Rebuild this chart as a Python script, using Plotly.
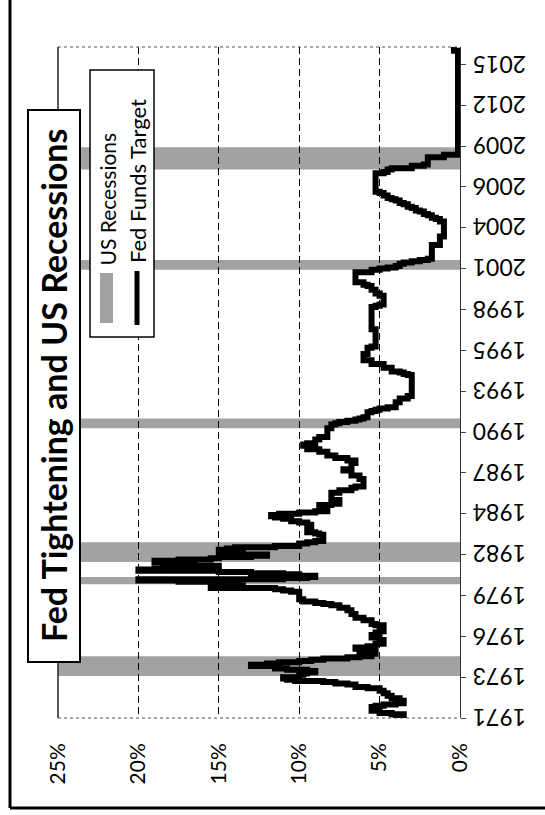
import plotly.graph_objects as go

# Fed funds target rate, change points (month, percent)
target_dates = [
    "1971-01", "1971-02", "1971-04", "1971-05", "1971-07", "1971-10", "1971-11", "1971-12",
    "1972-01", "1972-03", "1972-05", "1972-07", "1972-09", "1972-11",
    "1973-01", "1973-02", "1973-04", "1973-05", "1973-06", "1973-07", "1973-08", "1973-09",
    "1973-10", "1973-12",
    "1974-01", "1974-02", "1974-03", "1974-04", "1974-05", "1974-07", "1974-08", "1974-09",
    "1974-10", "1974-11", "1974-12",
    "1975-01", "1975-02", "1975-03", "1975-05", "1975-07", "1975-09", "1975-10", "1975-11",
    "1976-01", "1976-04", "1976-06", "1976-08", "1976-10", "1976-11",
    "1977-04", "1977-05", "1977-08", "1977-10",
    "1978-01", "1978-04", "1978-06", "1978-08", "1978-09", "1978-10", "1978-11",
    "1979-01", "1979-07", "1979-08", "1979-09", "1979-10", "1979-11", "1979-12",
    "1980-01", "1980-02", "1980-03", "1980-04", "1980-05", "1980-06", "1980-07", "1980-08",
    "1980-09", "1980-10", "1980-11", "1980-12",
    "1981-01", "1981-02", "1981-03", "1981-04", "1981-05", "1981-07", "1981-08", "1981-09",
    "1981-10", "1981-11", "1981-12",
    "1982-01", "1982-02", "1982-04", "1982-05", "1982-06", "1982-07", "1982-08", "1982-10",
    "1982-11", "1982-12",
    "1983-05", "1983-06", "1983-07", "1983-10",
    "1984-01", "1984-03", "1984-04", "1984-06", "1984-07", "1984-08", "1984-09", "1984-10",
    "1984-11", "1984-12",
    "1985-01", "1985-03", "1985-05", "1985-06", "1985-09",
    "1986-03", "1986-05", "1986-07", "1986-08",
    "1987-02", "1987-05", "1987-09", "1987-10",
    "1988-03", "1988-05", "1988-07", "1988-09", "1988-12",
    "1989-02", "1989-05", "1989-06", "1989-07", "1989-10", "1989-12",
    "1990-07", "1990-10", "1990-11", "1990-12",
    "1991-01", "1991-02", "1991-03", "1991-04", "1991-08", "1991-09", "1991-10", "1991-11",
    "1991-12",
    "1992-04", "1992-07", "1992-09",
    "1994-02", "1994-03", "1994-04", "1994-05", "1994-08", "1994-11",
    "1995-02", "1995-07", "1995-12", "1996-01", "1997-03",
    "1998-09", "1998-10", "1998-11",
    "1999-06", "1999-08", "1999-11",
    "2000-02", "2000-03", "2000-05",
    "2001-01", "2001-03", "2001-04", "2001-05", "2001-06", "2001-08", "2001-09", "2001-10",
    "2001-11", "2001-12",
    "2002-11", "2003-06",
    "2004-06", "2004-08", "2004-09", "2004-11", "2004-12",
    "2005-02", "2005-03", "2005-05", "2005-06", "2005-08", "2005-09", "2005-11", "2005-12",
    "2006-01", "2006-03", "2006-05", "2006-06",
    "2007-09", "2007-10", "2007-12",
    "2008-01", "2008-03", "2008-04", "2008-10", "2008-12",
    "2015-12", "2016-03",
]
target_rates = [
    4.0, 3.5, 4.25, 5.0, 5.5, 5.25, 4.75, 4.0,
    3.5, 3.75, 4.25, 4.5, 4.75, 5.0,
    5.75, 6.5, 7.0, 7.75, 8.5, 10.25, 10.75, 11.0,
    10.0, 9.75,
    9.5, 9.0, 9.5, 10.75, 11.5, 13.0, 12.0, 11.25,
    10.0, 9.25, 8.5,
    7.0, 6.25, 5.5, 5.25, 6.25, 6.5, 5.75, 5.25,
    4.75, 5.0, 5.5, 5.25, 5.0, 4.75,
    5.25, 5.5, 6.0, 6.5,
    6.75, 7.0, 7.5, 8.0, 8.5, 9.0, 9.75,
    10.0, 10.5, 11.0, 11.5, 15.5, 13.5, 13.75,
    14.0, 15.0, 17.5, 20.0, 11.0, 9.5, 9.0, 10.0,
    11.0, 13.0, 15.0, 20.0,
    19.0, 16.0, 15.0, 16.5, 18.5, 19.0, 17.5, 15.5,
    15.0, 13.0, 12.0,
    13.5, 14.75, 15.0, 14.5, 14.0, 11.5, 10.0, 9.5,
    9.0, 8.5,
    8.75, 9.0, 9.5, 9.25,
    9.5, 10.0, 10.5, 11.0, 11.5, 11.75, 11.25, 10.0,
    9.0, 8.25,
    8.5, 8.75, 8.0, 7.5, 8.0,
    7.5, 6.75, 6.5, 6.0,
    6.25, 6.75, 7.25, 6.75,
    6.5, 7.0, 7.75, 8.25, 8.75,
    9.5, 9.75, 9.5, 9.0, 8.75, 8.25,
    8.0, 7.75, 7.5, 7.0,
    6.5, 6.25, 6.0, 5.75, 5.5, 5.25, 5.0, 4.5,
    4.0,
    3.75, 3.25, 3.0,
    3.25, 3.5, 3.75, 4.25, 4.75, 5.5,
    6.0, 5.75, 5.5, 5.25, 5.5,
    5.25, 5.0, 4.75,
    5.0, 5.25, 5.5,
    5.75, 6.0, 6.5,
    5.5, 5.0, 4.5, 4.0, 3.75, 3.5, 3.0, 2.5,
    2.0, 1.75,
    1.25, 1.0,
    1.25, 1.5, 1.75, 2.0, 2.25,
    2.5, 2.75, 3.0, 3.25, 3.5, 3.75, 4.0, 4.25,
    4.5, 4.75, 5.0, 5.25,
    4.75, 4.5, 4.25,
    3.0, 2.25, 2.0, 1.0, 0.125,
    0.375, 0.375,
]

# US recessions (start, end)
recession_starts = ["1973-11-01", "1980-01-01", "1981-07-01", "1990-07-01", "2001-03-01", "2007-12-01"]
recession_ends = ["1975-03-01", "1980-07-01", "1982-11-01", "1991-03-01", "2001-11-01", "2009-06-01"]

# Time-axis ticks every 33 months
year_tick_dates = [
    "1971-01-01", "1973-10-01", "1976-07-01", "1979-04-01", "1982-01-01", "1984-10-01",
    "1987-07-01", "1990-04-01", "1993-01-01", "1995-10-01", "1998-07-01", "2001-04-01",
    "2004-01-01", "2006-10-01", "2009-07-01", "2012-04-01", "2015-01-01",
]
year_tick_labels = [
    "1971", "1973", "1976", "1979", "1982", "1984", "1987", "1990", "1993", "1995",
    "1998", "2001", "2004", "2006", "2009", "2012", "2015",
]
rate_ticks = [0, 5, 10, 15, 20, 25]
rate_tick_labels = ["0%", "5%", "10%", "15%", "20%", "25%"]

title_text = "Fed Tightening and US Recessions"
legend_labels = ["US Recessions", "Fed Funds Target"]

W, H = 545, 815
ML, MR, MT, MB = 58, 85, 47, 97
PW, PH = W - ML - MR, H - MT - MB


def px(x):
    return (x - ML) / PW


def py(y):
    return (H - MB - y) / PH


FONT = "Lato"
GREY = "#a2a2a2"

fig = go.Figure()

fig.add_trace(go.Scatter(
    x=target_rates,
    y=[d + "-01" for d in target_dates],
    mode="lines",
    line=dict(color="black", width=6, shape="vh"),
    showlegend=False,
    hoverinfo="skip",
))

shapes = []
for s, e in zip(recession_starts, recession_ends):
    shapes.append(dict(type="rect", xref="paper", yref="y", x0=0, x1=1, y0=s, y1=e,
                       fillcolor=GREY, line=dict(width=0), layer="below"))

# plot frame edges
shapes += [
    dict(type="line", xref="paper", yref="paper", x0=0, x1=1, y0=1, y1=1,
         line=dict(color="#555", width=1, dash="dot")),
    dict(type="line", xref="paper", yref="paper", x0=0, x1=1, y0=0, y1=0,
         line=dict(color="#555", width=1, dash="dot")),
    dict(type="line", xref="paper", yref="paper", x0=0, x1=0, y0=0, y1=1,
         line=dict(color="#222", width=1.5)),
]

# outer border
shapes += [
    dict(type="line", xref="paper", yref="paper", x0=px(10), x1=px(10), y0=py(-5), y1=py(808),
         line=dict(color="black", width=3)),
    dict(type="line", xref="paper", yref="paper", x0=px(10), x1=px(560), y0=py(808), y1=py(808),
         line=dict(color="black", width=3)),
]

# title box
shapes.append(dict(type="rect", xref="paper", yref="paper", x0=px(28), x1=px(80),
                   y0=py(662), y1=py(110), fillcolor="white",
                   line=dict(color="black", width=2), layer="above"))

# legend box and keys
shapes.append(dict(type="rect", xref="paper", yref="paper", x0=px(90), x1=px(154),
                   y0=py(337), y1=py(70), fillcolor="white",
                   line=dict(color="black", width=1.5), layer="above"))
shapes.append(dict(type="rect", xref="paper", yref="paper", x0=px(100), x1=px(113),
                   y0=py(323), y1=py(273), fillcolor=GREY, line=dict(width=0), layer="above"))
shapes.append(dict(type="line", xref="paper", yref="paper", x0=px(137), x1=px(137),
                   y0=py(325), y1=py(271), line=dict(color="black", width=5), layer="above"))

annotations = [
    dict(xref="paper", yref="paper", x=px(54), y=py(386), text="<b>" + title_text + "</b>",
         textangle=-90, showarrow=False, xanchor="center", yanchor="middle",
         font=dict(family=FONT, size=34, color="black")),
    dict(xref="paper", yref="paper", x=px(107), y=py(268), text=legend_labels[0],
         textangle=-90, showarrow=False, xanchor="center", yanchor="bottom",
         font=dict(family=FONT, size=21, color="black")),
    dict(xref="paper", yref="paper", x=px(137), y=py(265), text=legend_labels[1],
         textangle=-90, showarrow=False, xanchor="center", yanchor="bottom",
         font=dict(family=FONT, size=22, color="black")),
]

# upside-down year labels beside the time axis
for d, lab in zip(year_tick_dates, year_tick_labels):
    annotations.append(dict(xref="paper", yref="y", x=px(500), y=d, text=lab,
                            textangle=180, showarrow=False, xanchor="center",
                            yanchor="middle", font=dict(family=FONT, size=23, color="black")))

fig.update_layout(
    width=W, height=H,
    margin=dict(l=ML, r=MR, t=MT, b=MB),
    paper_bgcolor="white", plot_bgcolor="white",
    showlegend=False,
    shapes=shapes,
    annotations=annotations,
    xaxis=dict(
        range=[25, 0], tickvals=rate_ticks, ticktext=rate_tick_labels,
        tickangle=-90, ticks="", ticklabelstandoff=20,
        showgrid=True, gridcolor="black", gridwidth=1.3, griddash="7px,4px",
        zeroline=False, showline=False,
        tickfont=dict(family=FONT, size=21, color="black"),
    ),
    yaxis=dict(
        type="date", side="right",
        range=["1971-01-01", "2016-03-01"],
        tickvals=year_tick_dates, showticklabels=False,
        ticks="outside", ticklen=5, tickcolor="#444",
        showline=True, linecolor="#333", linewidth=1.2, mirror=False,
        showgrid=False, zeroline=False,
    ),
)

fig.write_html("out.html")
